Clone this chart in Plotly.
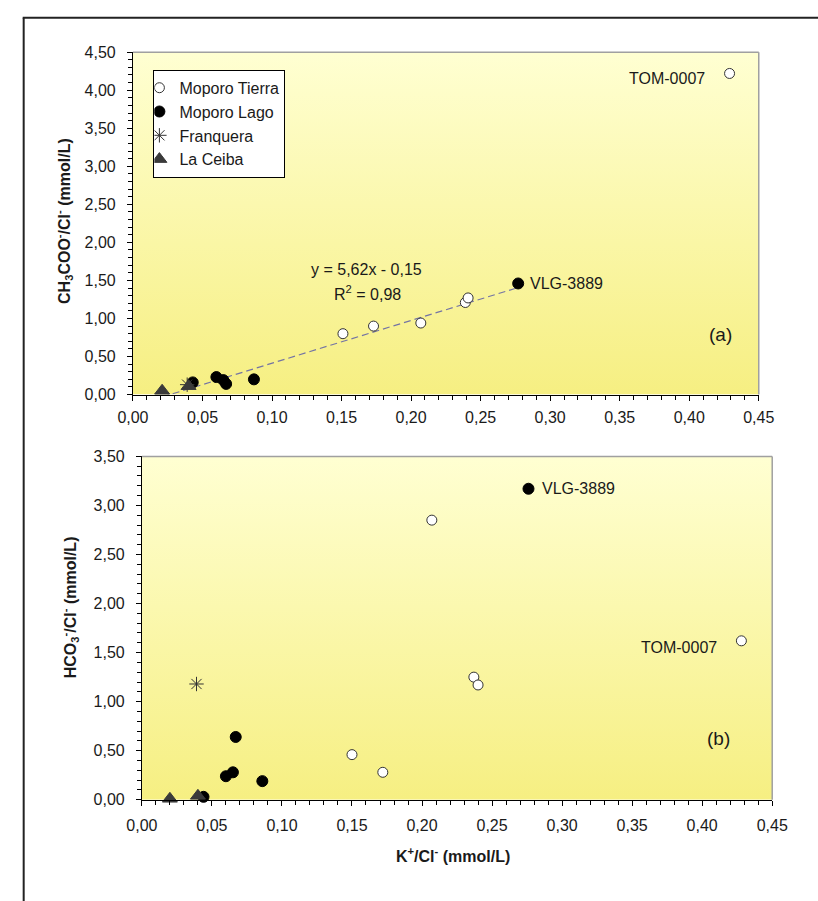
import base64
import plotly.graph_objects as go

# ---------------- data ----------------
# Panel (a): CH3COO-/Cl- vs K+/Cl-
MT_X_A = [0.151, 0.173, 0.207, 0.239, 0.241, 0.429]
MT_Y_A = [0.80, 0.90, 0.94, 1.21, 1.27, 4.22]
ML_X_A = [0.043, 0.060, 0.065, 0.067, 0.087, 0.277]
ML_Y_A = [0.16, 0.23, 0.19, 0.14, 0.20, 1.46]
FR_X_A = [0.039]
FR_Y_A = [0.13]
LC_X_A = [0.021, 0.040]
LC_Y_A = [0.05, 0.11]

# Panel (b): HCO3-/Cl- vs K+/Cl-
MT_X_B = [0.150, 0.172, 0.207, 0.237, 0.240, 0.428]
MT_Y_B = [0.46, 0.28, 2.85, 1.25, 1.17, 1.62]
ML_X_B = [0.044, 0.060, 0.065, 0.067, 0.086, 0.276]
ML_Y_B = [0.03, 0.24, 0.28, 0.64, 0.19, 3.17]
FR_X_B = [0.039]
FR_Y_B = [1.18]
LC_X_B = [0.020, 0.040]
LC_Y_B = [0.01, 0.04]

# Linear trend shown in panel (a): y = 5,62x - 0,15
TREND_SLOPE = 5.62
TREND_INTERCEPT = -0.15
TREND_X = [0.021, 0.277]

SERIES = ["Moporo Tierra", "Moporo Lago", "Franquera", "La Ceiba"]
X_TICKS = [0, 0.05, 0.10, 0.15, 0.20, 0.25, 0.30, 0.35, 0.40, 0.45]

# ---------------- layout helpers ----------------
W, H = 818, 901


def px(x):
    return x / W


def py(y):
    return 1 - y / H


FONT = "Arial, 'Liberation Sans', sans-serif"
TXT = "#1a1a1a"

marker_styles = {
    "Moporo Tierra": dict(symbol="circle", size=10, color="white",
                          line=dict(color="#333333", width=1)),
    "Moporo Lago": dict(symbol="circle", size=11, color="black",
                        line=dict(color="black", width=1)),
    "Franquera": dict(symbol="asterisk-open", size=12, color="#333333",
                      line=dict(color="#333333", width=1)),
    "La Ceiba": dict(symbol="triangle-up", size=13, color="#3a3a3a",
                     line=dict(color="#3a3a3a", width=1)),
}

fig = go.Figure()

trend_y = [TREND_SLOPE * x + TREND_INTERCEPT for x in TREND_X]
fig.add_trace(go.Scatter(x=TREND_X, y=trend_y, mode="lines",
                         line=dict(color="#7474A4", width=1.2, dash="7px,4px"),
                         showlegend=False, hoverinfo="skip",
                         xaxis="x", yaxis="y"))

data_a = {
    "Moporo Tierra": (MT_X_A, MT_Y_A),
    "Moporo Lago": (ML_X_A, ML_Y_A),
    "Franquera": (FR_X_A, FR_Y_A),
    "La Ceiba": (LC_X_A, LC_Y_A),
}
data_b = {
    "Moporo Tierra": (MT_X_B, MT_Y_B),
    "Moporo Lago": (ML_X_B, ML_Y_B),
    "Franquera": (FR_X_B, FR_Y_B),
    "La Ceiba": (LC_X_B, LC_Y_B),
}
for name in SERIES:
    xa, ya = data_a[name]
    fig.add_trace(go.Scatter(x=xa, y=ya, mode="markers", name=name,
                             marker=marker_styles[name], cliponaxis=False,
                             legendgroup=name, xaxis="x", yaxis="y"))
for name in SERIES:
    xb, yb = data_b[name]
    fig.add_trace(go.Scatter(x=xb, y=yb, mode="markers", name=name,
                             marker=marker_styles[name], cliponaxis=False,
                             legendgroup=name, showlegend=False,
                             xaxis="x2", yaxis="y2"))

# plot-area pixel positions in the reference
A_L, A_R, A_T, A_B = 121.7, 773.0, 45.0, 394.0
B_L, B_R, B_T, B_B = 131.0, 787.0, 457.0, 807.0


def xaxis_style(domain, anchor, standoff):
    return dict(domain=[px(domain[0]), px(domain[1])], anchor=anchor,
                range=[0, 0.45], tickvals=X_TICKS, tickformat=".2f",
                ticks="outside", ticklen=5, tickwidth=1, tickcolor="black",
                showline=True, linecolor="black", linewidth=1,
                showgrid=False, zeroline=False,
                minor=dict(dtick=0.01, ticks="outside", ticklen=4,
                           tickcolor="black", tickwidth=1, showgrid=False),
                tickfont=dict(family=FONT, size=16, color=TXT),
                ticklabelstandoff=standoff, fixedrange=True)


def yaxis_style(domain, anchor, top, standoff):
    return dict(domain=[py(domain[1]), py(domain[0])], anchor=anchor,
                range=[0, top], dtick=0.5, tickformat=".2f",
                ticks="outside", ticklen=5, tickwidth=1, tickcolor="black",
                showline=True, linecolor="black", linewidth=1,
                showgrid=False, zeroline=False,
                minor=dict(dtick=0.1, ticks="outside", ticklen=4,
                           tickcolor="black", tickwidth=1, showgrid=False),
                tickfont=dict(family=FONT, size=16, color=TXT),
                ticklabelstandoff=standoff, fixedrange=True)


svg = ('<svg xmlns="http://www.w3.org/2000/svg" width="100" height="100" '
       'viewBox="0 0 100 100" preserveAspectRatio="none">'
       '<defs><linearGradient id="g" x1="0" y1="0" x2="0" y2="1">'
       '<stop offset="0" stop-color="#FFFFD2"/>'
       '<stop offset="1" stop-color="#F6EF82"/>'
       '</linearGradient></defs>'
       '<rect x="0" y="0" width="100" height="100" fill="url(#g)"/></svg>')
svg_uri = "data:image/svg+xml;base64," + base64.b64encode(svg.encode()).decode()

images = []
for (l, r, t, b) in [(A_L, A_R, A_T, A_B), (B_L, B_R, B_T, B_B)]:
    images.append(dict(source=svg_uri, xref="paper", yref="paper",
                       x=px(l), y=py(t), sizex=px(r) - px(l),
                       sizey=py(t) - py(b), xanchor="left", yanchor="top",
                       sizing="stretch", layer="below"))

shapes = []
# grey top/right borders of the plot areas
for (l, r, t, b) in [(A_L, A_R, A_T, A_B), (B_L, B_R, B_T, B_B)]:
    shapes.append(dict(type="line", xref="paper", yref="paper",
                       x0=px(l), x1=px(r), y0=py(t), y1=py(t),
                       line=dict(color="#A0A0A0", width=1.5), layer="above"))
    shapes.append(dict(type="line", xref="paper", yref="paper",
                       x0=px(r), x1=px(r), y0=py(t), y1=py(b),
                       line=dict(color="#A0A0A0", width=1.5), layer="above"))
# outer frame (left and top edges, running off the page)
shapes.append(dict(type="line", xref="paper", yref="paper",
                   x0=px(8), x1=px(8), y0=py(10), y1=py(920),
                   line=dict(color="#222222", width=2)))
shapes.append(dict(type="line", xref="paper", yref="paper",
                   x0=px(7), x1=px(840), y0=py(10), y1=py(10),
                   line=dict(color="#222222", width=2)))


def ann(text, x, y, size=16, angle=0, bold=False):
    if bold:
        text = "<b>" + text + "</b>"
    return dict(text=text, x=px(x), y=py(y), xref="paper", yref="paper",
                xanchor="center", yanchor="middle", showarrow=False,
                textangle=angle, font=dict(family=FONT, size=size, color=TXT))


annotations = [
    ann("CH<sub>3</sub>COO<sup>-</sup>/Cl<sup>-</sup> (mmol/L)", 50, 217, 16, -90, True),
    ann("HCO<sub>3</sub><sup>-</sup>/Cl<sup>-</sup> (mmol/L)", 57, 611, 16, -90, True),
    ann("K<sup>+</sup>/Cl<sup>-</sup> (mmol/L)", 455, 863, 16, 0, True),
    ann("y = 5,62x - 0,15", 365, 267, 16),
    ann("R<sup>2</sup> = 0,98", 366, 290, 16),
    ann("VLG-3889", 573, 281, 16),
    ann("VLG-3889", 585, 490, 16),
    ann("TOM-0007", 677, 72, 16),
    ann("TOM-0007", 690, 652, 16),
    ann("(a)", 733, 333, 19),
    ann("(b)", 731, 745, 19),
]

fig.update_layout(
    width=W, height=H, autosize=False,
    margin=dict(l=0, r=0, t=0, b=0, pad=0),
    paper_bgcolor="white", plot_bgcolor="rgba(0,0,0,0)",
    separators=", ",
    font=dict(family=FONT, size=16, color=TXT),
    xaxis=xaxis_style((A_L, A_R), "y", 3),
    yaxis=yaxis_style((A_T, A_B), "x", 4.5, 8),
    xaxis2=xaxis_style((B_L, B_R), "y2", 6),
    yaxis2=yaxis_style((B_T, B_B), "x2", 3.5, 8),
    legend=dict(x=px(143), y=py(63), xanchor="left", yanchor="top",
                bgcolor="white", bordercolor="black", borderwidth=1,
                font=dict(family=FONT, size=16, color=TXT),
                itemwidth=30, tracegroupgap=0, indentation=-15),
    images=images, shapes=shapes, annotations=annotations,
    showlegend=True,
)

fig.write_html("out.html", config={"displayModeBar": False},
               post_script="document.body.style.margin='0px';")
